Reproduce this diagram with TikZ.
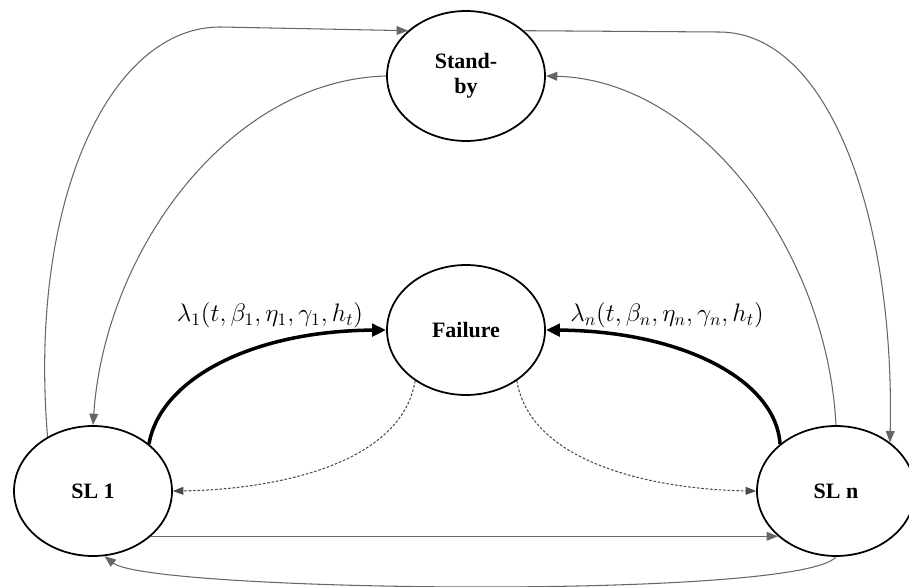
\documentclass[tikz,border=0pt]{standalone}
\usepackage{fontspec}
\setmainfont{Liberation Serif}
\usetikzlibrary{shapes.geometric,arrows.meta}
\tikzset{
  stnode/.style={ellipse,draw,line width=1pt,minimum width=3.16cm,minimum height=2.6cm,
    font=\fontsize{12.5}{14}\selectfont\bfseries,align=center,inner sep=1pt},
  thinarc/.style={draw=black!60,line width=0.6pt,-{Triangle[length=6.5pt,width=5pt]}},
  ratearc/.style={line width=2pt,-{Triangle[length=8pt,width=7pt]}},
  backarc/.style={draw=black!70,line width=0.6pt,dash pattern=on 1.5pt off 1pt,-{Triangle[length=6pt,width=4.5pt]}},
  ratelabel/.style={font=\fontsize{14}{16}\selectfont}
}
\begin{document}
\begin{tikzpicture}[x=0.02cm,y=-0.02cm]
  \useasboundingbox (0,0) rectangle (909,587);
  % states
  \node[stnode] (sb) at (466,76) {Stand-\\by};
  \node[stnode] (fail) at (466,330) {Failure};
  \node[stnode] (sl1) at (93,491) {SL 1};
  \node[stnode] (sln) at (836,491) {SL n};

  % stand-by transitions
  \draw[thinarc] (sl1.130) .. controls (28,200) and (110,27) .. (220,27) -- (sb.142);
  \draw[thinarc] (sb.west) .. controls (230,80) and (105,250) .. (sl1.north);
  \draw[thinarc] (sln.north) .. controls (827,250) and (700,80) .. (sb.east);
  \draw[thinarc] (sb.38) -- (719,32) .. controls (830,32) and (895,220) .. (sln.42);

  % failure rates
  \draw[ratearc] (sl1.40) .. controls (160,380) and (250,331) .. (fail.west);
  \draw[ratearc] (sln.140) .. controls (776,380) and (682,331) .. (fail.east);
  \node[ratelabel] (l1) at (270,315) {$\lambda_1(t,\beta_1,\eta_1,\gamma_1,h_t)$};
  \node[ratelabel] (ln) at (667,315) {$\lambda_n(t,\beta_n,\eta_n,\gamma_n,h_t)$};

  % repair
  \draw[backarc] (fail.225) .. controls (400,470) and (260,490) .. (sl1.east);
  \draw[backarc] (fail.-45) .. controls (532,470) and (672,490) .. (sln.west);

  % switching between levels
  \draw[thinarc] (sl1.-38) -- (sln.218);
  \draw[thinarc] (sln.south) .. controls (800,600) and (150,592) .. (sl1.-80);
\end{tikzpicture}
\end{document}
